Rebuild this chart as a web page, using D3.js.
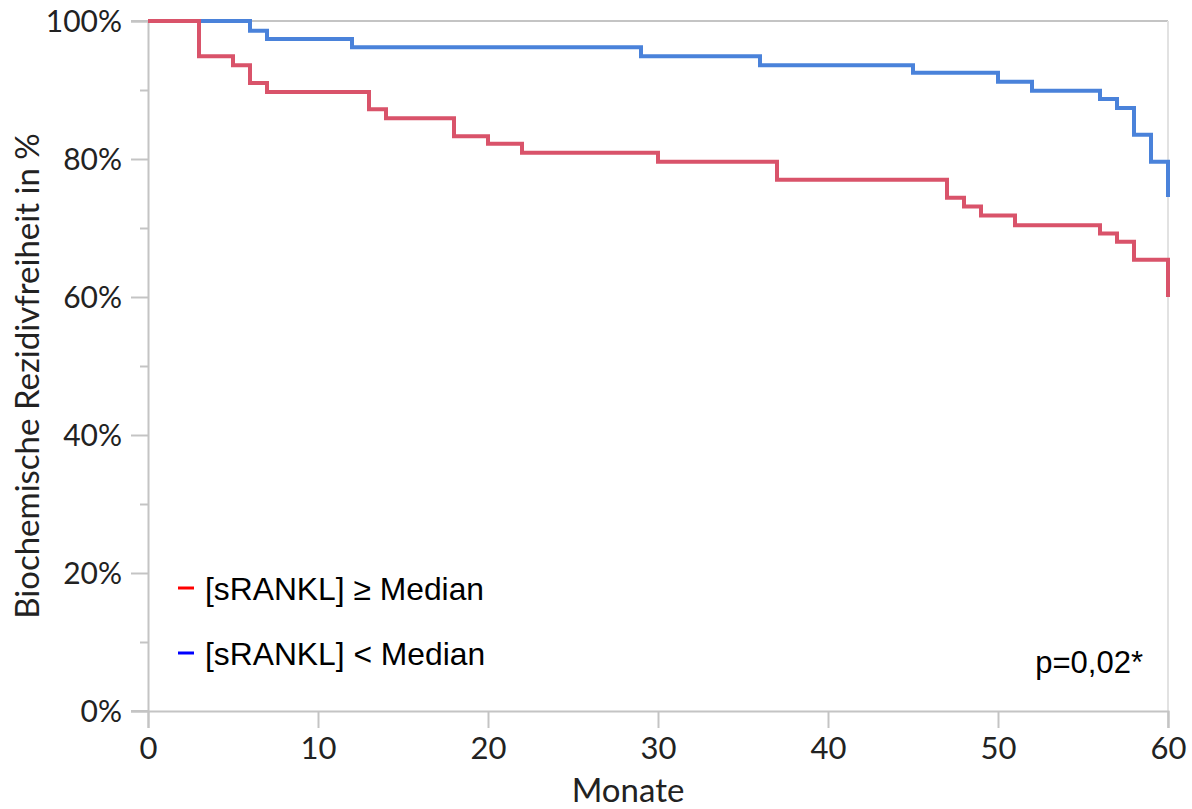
<!DOCTYPE html>
<html>
<head>
<meta charset="utf-8">
<script src="https://cdn.jsdelivr.net/npm/d3@7"></script>
<style>
  body { margin: 0; background: #fff; }
  .tick text { font-family: Lato, "Open Sans", sans-serif; fill: #222; }
</style>
</head>
<body>
<div id="graph"></div>
<script>
'use strict';

// Kaplan-Meier steps, months vs. percent free of recurrence
const highMonths = [0, 3, 5, 6, 7, 13, 14, 18, 20, 22, 30, 37, 47, 48, 49, 51, 56, 57, 58, 60];
const highSurv   = [100, 94.9, 93.6, 91.0, 89.7, 87.2, 85.9, 83.3, 82.2, 80.9, 79.6, 77.0, 74.4, 73.1, 71.8, 70.4, 69.2, 68.0, 65.4, 60.0];
const lowMonths  = [0, 6, 7, 12, 29, 36, 45, 50, 52, 56, 57, 58, 59, 60];
const lowSurv    = [100, 98.6, 97.4, 96.2, 94.9, 93.6, 92.5, 91.2, 89.9, 88.7, 87.4, 83.5, 79.6, 74.5];

const xTicks = [0, 10, 20, 30, 40, 50, 60];
const yTicks = [0, 20, 40, 60, 80, 100];
const yMinor = [10, 30, 50, 70, 90];
const legendLabels = ['[sRANKL] \u2265 Median', '[sRANKL] < Median'];
const pLabel = 'p=0,02*';

var W = 1192, H = 809,
    padl = 148, padt = 21, padr = 24, padb = 98,
    w = W - padl - padr,
    h = H - padt - padb,
    axisCol = '#c4c4c4';

var x = d3.scaleLinear().domain([0, 60]).range([0, w]),
    y = d3.scaleLinear().domain([0, 100]).range([h, 0]);

var svg = d3.select('#graph').append('svg')
    .attr('width', W)
    .attr('height', H);

var vis = svg.append('g')
    .attr('transform', 'translate(' + padl + ',' + padt + ')');

// top gridline + right border
vis.append('line')
    .attr('x1', -17).attr('x2', w).attr('y1', y(100)).attr('y2', y(100))
    .attr('stroke', axisCol).attr('stroke-width', 2);
vis.append('line')
    .attr('x1', w).attr('x2', w).attr('y1', y(100)).attr('y2', h + 17)
    .attr('stroke', '#e2e2e2').attr('stroke-width', 2);

// y axis
var yAxis = vis.append('g')
    .attr('class', 'y axis')
    .call(d3.axisLeft(y).tickValues(yTicks).tickSize(17).tickPadding(9)
      .tickFormat((d) => d + '%'));
yAxis.select('.domain').attr('stroke', axisCol).attr('stroke-width', 2);
yAxis.selectAll('.tick line').attr('stroke', axisCol).attr('stroke-width', 2);
yAxis.selectAll('.tick text').style('font-size', '30px').attr('dy', '0.36em');

vis.append('g')
    .call(d3.axisLeft(y).tickValues(yMinor).tickSize(8).tickFormat(''))
    .call((g) => g.select('.domain').remove())
    .selectAll('.tick line').attr('stroke', axisCol).attr('stroke-width', 2);

// x axis
var xAxis = vis.append('g')
    .attr('class', 'x axis')
    .attr('transform', 'translate(0,' + h + ')')
    .call(d3.axisBottom(x).tickValues(xTicks).tickSize(17).tickPadding(9));
xAxis.select('.domain').attr('stroke', axisCol).attr('stroke-width', 2);
xAxis.selectAll('.tick line').attr('stroke', axisCol).attr('stroke-width', 2);
xAxis.selectAll('.tick text').style('font-size', '31px');
// extend baseline to meet the y tick
vis.append('line')
    .attr('x1', -17).attr('x2', 0).attr('y1', h).attr('y2', h)
    .attr('stroke', axisCol).attr('stroke-width', 2);

// axis titles
svg.append('text')
    .attr('x', 628).attr('y', 802)
    .attr('text-anchor', 'middle')
    .style('font-family', 'Lato, sans-serif').style('font-size', '33px').style('fill', '#222')
    .text('Monate');
svg.append('text')
    .attr('transform', 'translate(39,376) rotate(-90)')
    .attr('text-anchor', 'middle')
    .style('font-family', 'Lato, sans-serif').style('font-size', '33px').style('fill', '#222')
    .text('Biochemische Rezidivfreiheit in %');

// curves
var line = d3.line()
    .x((d) => x(d[0]))
    .y((d) => y(d[1]))
    .curve(d3.curveStepAfter);

var lowData = lowMonths.map((m, i) => [m, lowSurv[i]]),
    highData = highMonths.map((m, i) => [m, highSurv[i]]);

vis.append('path')
    .datum(lowData)
    .attr('d', line)
    .attr('fill', 'none')
    .attr('stroke', '#4a82da')
    .attr('stroke-width', 4);

vis.append('path')
    .datum(highData)
    .attr('d', line)
    .attr('fill', 'none')
    .attr('stroke', '#d9536a')
    .attr('stroke-width', 4);

// legend
var legend = svg.append('g');
var legendCols = ['#ff0000', '#0000ff'];
legendLabels.forEach(function (lab, i) {
  var yy = 600 + i * 65;
  legend.append('line')
      .attr('x1', 178).attr('x2', 194).attr('y1', yy - 12).attr('y2', yy - 12)
      .attr('stroke', legendCols[i]).attr('stroke-width', 3);
  legend.append('text')
      .attr('x', 205).attr('y', yy)
      .style('font-family', '"Liberation Sans", Arial, sans-serif')
      .style('font-size', '31.8px').style('fill', '#000')
      .text(lab);
});

svg.append('text')
    .attr('x', 1143).attr('y', 673)
    .attr('text-anchor', 'end')
    .style('font-family', '"Liberation Sans", Arial, sans-serif')
    .style('font-size', '31px').style('fill', '#000')
    .text(pLabel);
</script>
</body>
</html>
